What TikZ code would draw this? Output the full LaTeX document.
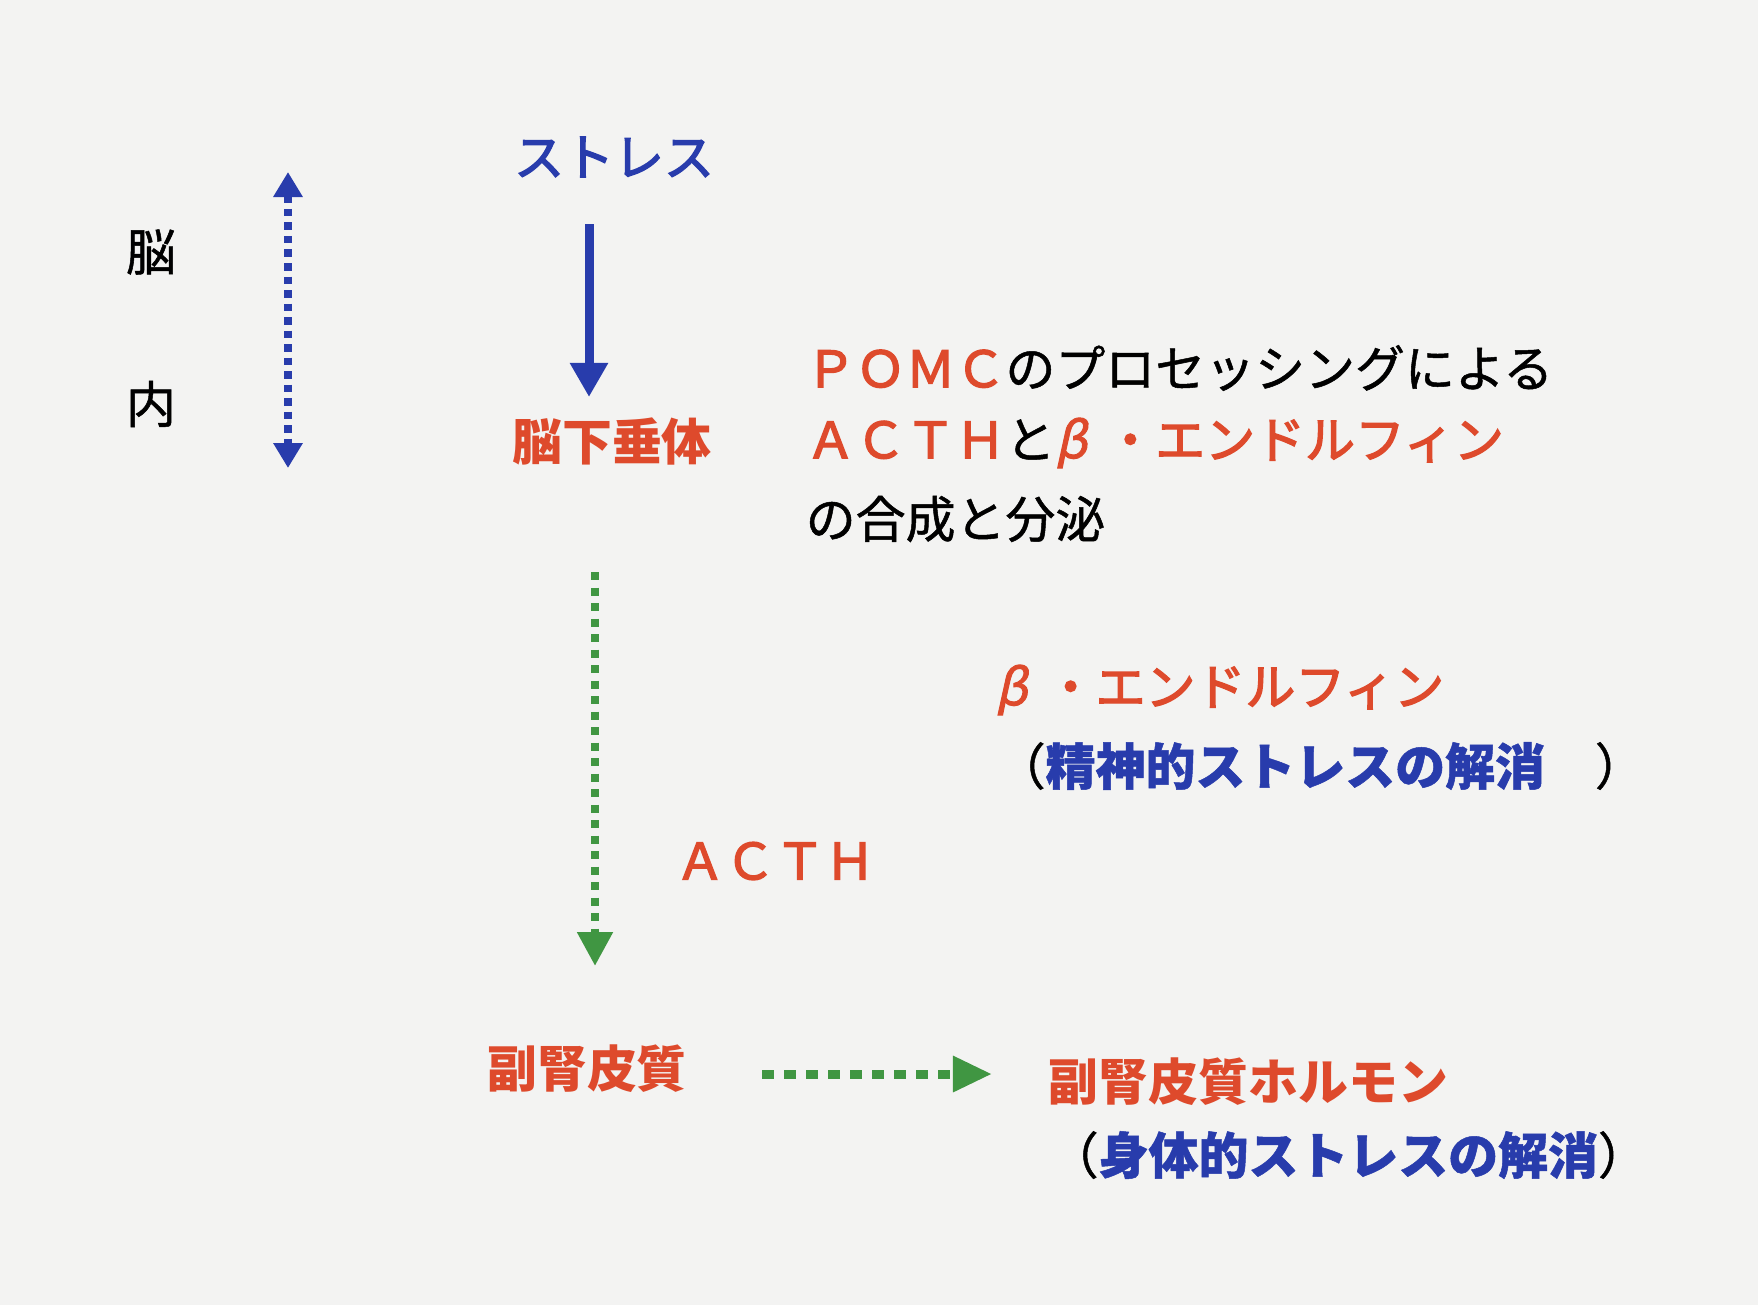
\documentclass[tikz,border=0pt]{standalone}
\usepackage{fontspec}
\setmainfont{Noto Sans CJK JP}
\newfontfamily\blkfont[FakeBold=1]{Noto Sans CJK JP}
\newfontfamily\medfont[FakeBold=2.8]{Noto Sans CJK JP}
\newfontfamily\betafont[FakeSlant=0.22,FakeBold=2]{Noto Sans CJK JP}
\usetikzlibrary{arrows.meta}
\definecolor{txtred}{RGB}{222,74,44}
\definecolor{txtblue}{RGB}{40,60,172}
\definecolor{arrgreen}{RGB}{64,150,66}
\definecolor{paper}{RGB}{243,243,242}
\newcommand{\fsz}{\fontsize{14.2pt}{17pt}\selectfont}
\newcommand{\betaj}{\makebox[1em][l]{\betafont β}}

\begin{document}
\begin{tikzpicture}[x=0.01cm, y=-0.01cm,
  every node/.style={inner sep=0pt, font=\fsz\blkfont},
  blk/.style={text=black},
  redtxt/.style={text=txtred, font=\fsz\medfont},
  redbold/.style={text=txtred, font=\fsz\bfseries},
  bluetxt/.style={text=txtblue, font=\fsz\medfont},
  bluearrow/.style={draw=txtblue, line width=0.09cm, -{Triangle[width=0.36cm, length=0.34cm]}},
  bluedots/.style={draw=txtblue, line width=0.075cm, dash pattern=on 0.075cm off 0.06cm,
    {Triangle[width=0.28cm, length=0.25cm]}-{Triangle[width=0.28cm, length=0.25cm]}},
  greendots/.style={draw=arrgreen, line width=0.08cm, dash pattern=on 0.08cm off 0.075cm,
    -{Triangle[width=0.34cm, length=0.34cm]}},
  greendotsh/.style={draw=arrgreen, line width=0.09cm, dash pattern=on 0.12cm off 0.1cm,
    -{Triangle[width=0.34cm, length=0.39cm]}}]
  % 背景
  \fill[paper] (0,0) rectangle (1758,1305);
  \useasboundingbox (0,0) rectangle (1758,1305);

  % 脳内
  \node[blk] (nou) at (151,252) {脳};
  \node[blk] (nai) at (151,404) {内};
  \coordinate (inTop) at (288,172);
  \coordinate (inBot) at (288,468);
  \draw[bluedots] (inTop) -- (inBot);

  % ストレス -> 脳下垂体
  \node[bluetxt] (stress) at (614,157) {ストレス};
  \node[redbold] (pit) at (612,441) {脳下垂体};
  \draw[bluearrow] ([shift={(-25,67)}]stress.center) -- ([shift={(-23,-44)}]pit.center);

  % POMC の説明
  \node[blk, anchor=west] (pomcA) at (805,368) {{\color{txtred}\medfont ＰＯＭＣ}のプロセッシングによる};
  \node[blk, anchor=west] (pomcB) at (805,443) {{\color{txtred}\medfont ＡＣＴＨ}と{\color{txtred}\medfont\betaj・エンドルフィン}};
  \node[blk, anchor=west] (pomcC) at (805,519) {の合成と分泌};

  % 脳下垂体 -> 副腎皮質
  \node[redbold] (adrenal) at (587,1069) {副腎皮質};
  \draw[greendots] ([shift={(-17,131)}]pit.center) -- ([shift={(8,-103)}]adrenal.center);
  \node[redtxt] (acth) at (775,861) {ＡＣＴＨ};

  % β・エンドルフィン
  \node[redtxt, anchor=west] (endo) at (995,690) {\betaj・エンドルフィン};
  \node[blk, anchor=west] (reliefA) at (995,766) {（{\color{txtblue}\bfseries 精神的ストレスの解消}　）};

  % 副腎皮質 -> 副腎皮質ホルモン
  \node[redbold, anchor=west] (hormone) at (1048,1082) {副腎皮質ホルモン};
  \node[blk, anchor=west] (reliefB) at (1048,1155) {（{\color{txtblue}\bfseries 身体的ストレスの解消}）};
  \draw[greendotsh] ([shift={(175,5)}]adrenal.center) -- ([shift={(-56,-8)}]hormone.west);
\end{tikzpicture}
\end{document}
